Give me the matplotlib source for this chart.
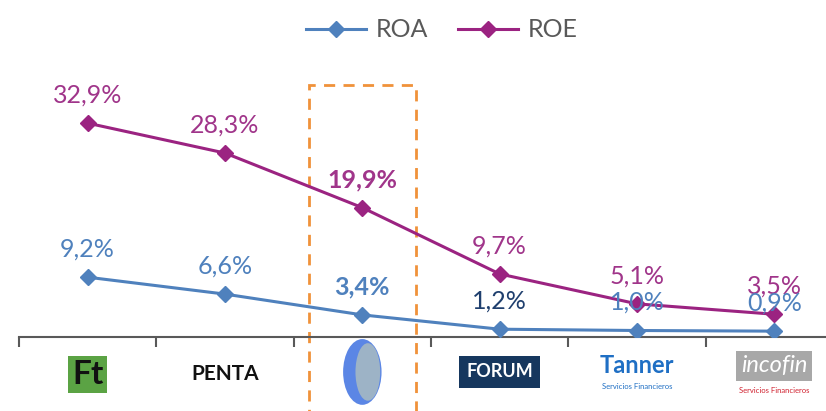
import numpy as np
import matplotlib.pyplot as plt
from matplotlib.patches import Rectangle, Ellipse
import matplotlib.transforms as mtransforms

plt.rcParams['font.family'] = ['Lato', 'DejaVu Sans']

companies = ["Ft", "PENTA", "", "FORUM", "Tanner", "incofin"]
roa = [9.2, 6.6, 3.4, 1.2, 1.0, 0.9]
roe = [32.9, 28.3, 19.9, 9.7, 5.1, 3.5]
roa_labels = ["9,2%", "6,6%", "3,4%", "1,2%", "1,0%", "0,9%"]
roe_labels = ["32,9%", "28,3%", "19,9%", "9,7%", "5,1%", "3,5%"]
highlight = 2

c_roa = "#4F81BD"
c_roe = "#9B2381"
c_roe_txt = "#A0358A"
c_axis = "#595959"

fig = plt.figure(figsize=(8.26, 4.11), dpi=100)
ax = fig.add_axes([19 / 826, 74 / 411, 824 / 826, 260 / 411])
x = np.arange(len(companies))

ax.plot(x, roa, color=c_roa, lw=2.2, marker="D", ms=8, label="ROA", zorder=3)
ax.plot(x, roe, color=c_roe, lw=2.2, marker="D", ms=8, label="ROE", zorder=3)

ax.set_xlim(-0.5, len(companies) - 0.5)
ax.set_ylim(0, 40)
for s in ["top", "right", "left"]:
    ax.spines[s].set_visible(False)
ax.spines["bottom"].set_color(c_axis)
ax.spines["bottom"].set_linewidth(1.5)
ax.set_yticks([])
ax.set_xticks(np.arange(-0.5, len(companies), 1.0))
ax.set_xticklabels([])
ax.tick_params(axis="x", direction="out", length=7, width=1.5, color=c_axis)

for i in range(len(companies)):
    bold = "bold" if i == highlight else "normal"
    ax.annotate(roe_labels[i], (x[i], roe[i]), xytext=(0, 12), textcoords="offset points",
                ha="center", va="bottom", fontsize=18, color=c_roe_txt, fontweight=bold)
    col = "#1F3F6E" if i == 3 else c_roa
    ax.annotate(roa_labels[i], (x[i], roa[i]), xytext=(0, 12), textcoords="offset points",
                ha="center", va="bottom", fontsize=18, color=col, fontweight=bold)

# highlighted company box
box = Rectangle((highlight - 0.39, -12), 0.78, 50.8, fill=False, ls=(0, (4, 3)),
                lw=2, ec="#F0923A", clip_on=False, zorder=1)
ax.add_patch(box)

# company names under the axis
tr = mtransforms.blended_transform_factory(ax.transData, fig.transFigure)
ax.text(0, 0.09, "Ft", transform=tr, ha="center", va="center", fontsize=24,
        fontweight="bold", color="#111111",
        bbox=dict(boxstyle="square,pad=0.12", fc="#5BA344", ec="none"))
ax.text(1, 0.09, "PENTA", transform=tr, ha="center", va="center", fontsize=15,
        fontweight="bold", color="#111111")
ax.add_patch(Ellipse((highlight, 0.095), 0.28, 0.16, transform=tr, fc="#5B86E5",
                     ec="none", clip_on=False))
ax.add_patch(Ellipse((highlight + 0.04, 0.095), 0.18, 0.14, transform=tr, fc="#9DB3C6",
                     ec="none", clip_on=False))
ax.text(3, 0.095, "FORUM", transform=tr, ha="center", va="center", fontsize=13,
        fontweight="bold", color="white",
        bbox=dict(boxstyle="square,pad=0.4", fc="#16375E", ec="none"))
ax.text(4, 0.11, "Tanner", transform=tr, ha="center", va="center", fontsize=17,
        fontweight="bold", color="#1F6FC4")
ax.text(4, 0.06, "Servicios Financieros", transform=tr, ha="center", va="center",
        fontsize=5.5, color="#1F6FC4")
ax.text(5, 0.11, "incofin", transform=tr, ha="center", va="center", fontsize=17,
        style="italic", color="white",
        bbox=dict(boxstyle="square,pad=0.2", fc="#A8A8A8", ec="none"))
ax.text(5, 0.05, "Servicios Financieros", transform=tr, ha="center", va="center",
        fontsize=5.5, color="#D0202E")

fig.legend(loc="upper center", bbox_to_anchor=(0.535, 1.01), ncol=2, frameon=False,
           fontsize=18, handlelength=2.4, columnspacing=1.2, handletextpad=0.4,
           labelcolor="#595959")

fig.savefig("out.png", dpi=100)
